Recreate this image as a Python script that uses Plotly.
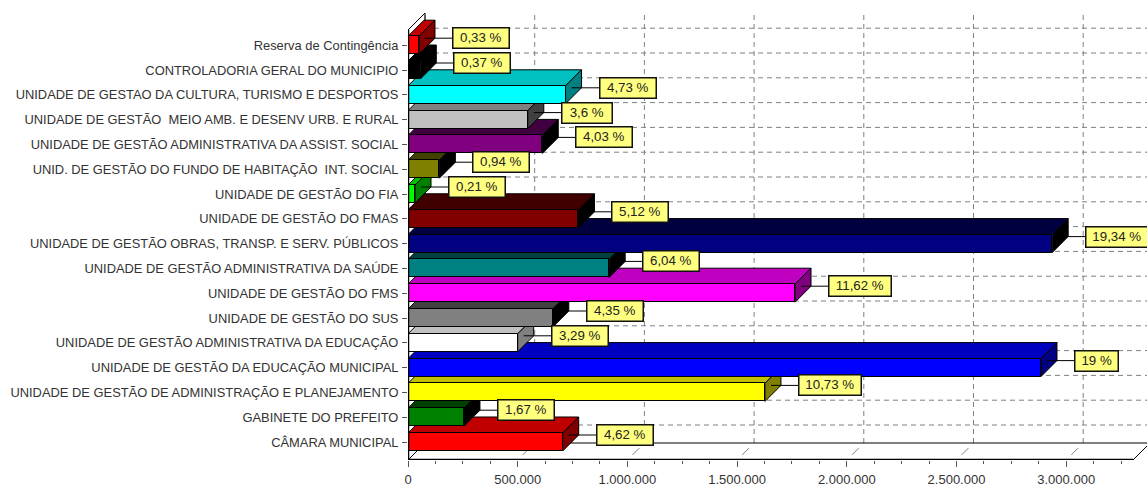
import plotly.graph_objects as go

categories = [
    "CÂMARA MUNICIPAL",
    "GABINETE DO PREFEITO",
    "UNIDADE DE GESTÃO DE ADMINISTRAÇÃO E PLANEJAMENTO",
    "UNIDADE DE GESTÃO DA EDUCAÇÃO MUNICIPAL",
    "UNIDADE DE GESTÃO ADMINISTRATIVA DA EDUCAÇÃO",
    "UNIDADE DE GESTÃO DO SUS",
    "UNIDADE DE GESTÃO DO FMS",
    "UNIDADE DE GESTÃO ADMINISTRATIVA DA SAÚDE",
    "UNIDADE DE GESTÃO OBRAS, TRANSP. E SERV. PÚBLICOS",
    "UNIDADE DE GESTÃO DO FMAS",
    "UNIDADE DE GESTÃO DO FIA",
    "UNID. DE GESTÃO DO FUNDO DE HABITAÇÃO  INT. SOCIAL",
    "UNIDADE DE GESTÃO ADMINISTRATIVA DA ASSIST. SOCIAL",
    "UNIDADE DE GESTÃO  MEIO AMB. E DESENV URB. E RURAL",
    "UNIDADE DE GESTAO DA CULTURA, TURISMO E DESPORTOS",
    "CONTROLADORIA GERAL DO MUNICIPIO",
    "Reserva de Contingência",
]
values = [705000, 255000, 1627000, 2885000, 500000, 660000, 1764000, 917000,
          2936000, 777000, 32000, 143000, 612000, 546000, 718000, 56000, 50000]
percent_labels = ["4,62 %", "1,67 %", "10,73 %", "19 %", "3,29 %", "4,35 %", "11,62 %", "6,04 %",
                  "19,34 %", "5,12 %", "0,21 %", "0,94 %", "4,03 %", "3,6 %", "4,73 %", "0,37 %", "0,33 %"]
front_colors = ["#ff0000", "#008000", "#ffff00", "#0000ff", "#ffffff", "#808080", "#ff00ff", "#008080",
                "#000080", "#800000", "#00ff00", "#808000", "#800080", "#c0c0c0", "#00ffff", "#000000", "#ff0000"]
top_colors = ["#c00000", "#004000", "#c0c000", "#0000c0", "#c0c0c0", "#404040", "#c000c0", "#004040",
              "#000040", "#400000", "#00c000", "#404000", "#400040", "#808080", "#00c0c0", "#000000", "#c00000"]
side_colors = ["#800000", "#000000", "#808000", "#000080", "#808080", "#000000", "#800080", "#000000",
               "#000000", "#000000", "#008000", "#000000", "#000000", "#404040", "#008080", "#000000", "#800000"]
x_ticks = [0, 500000, 1000000, 1500000, 2000000, 2500000, 3000000]
x_tick_labels = ["0", "500.000", "1.000.000", "1.500.000", "2.000.000", "2.500.000", "3.000.000"]

FONT = "Liberation Sans, Arial, sans-serif"
W, H = 1147, 486
X0_PX, Y_AXIS_PX, Y_CAT0_PX = 408, 460, 442
PX_PER_UNIT_X = 109.7 / 500000
PX_PER_CAT = 24.8
to_x = lambda px: px / PX_PER_UNIT_X
to_y = lambda px: px / PX_PER_CAT

x_max = to_x(W - X0_PX)
y_min, y_max = -to_y(Y_AXIS_PX - Y_CAT0_PX), to_y(Y_CAT0_PX)
BAR_H = to_y(18)
BAR_DX, BAR_DY = to_x(16), to_y(16)
WALL_DX, WALL_DY = to_x(17), to_y(17)
x_front_end = to_x(1133 - X0_PX)
y_wall_top = to_y(Y_CAT0_PX - 30)
indices = list(range(len(categories)))

fig = go.Figure()


def face(xs, ys, color):
    fig.add_trace(go.Scatter(x=xs, y=ys, mode="lines", fill="toself", fillcolor=color,
                             line=dict(color="#000000", width=1), hoverinfo="skip", showlegend=False))


# depth faces: upper categories paint over lower ones
for i in indices:
    v = values[i]
    t, b = i + BAR_H / 2, i - BAR_H / 2
    face([0, v, v + BAR_DX, BAR_DX, 0], [t, t, t + BAR_DY, t + BAR_DY, t], top_colors[i])
    face([v, v + BAR_DX, v + BAR_DX, v, v], [t, t + BAR_DY, b + BAR_DY, b, t], side_colors[i])

# callout connectors and labels
for i, (v, lab) in enumerate(zip(values, percent_labels)):
    y_c = i + to_y(7)
    fig.add_trace(go.Scatter(x=[v + to_x(6), v + to_x(34)], y=[y_c, y_c], mode="lines",
                             line=dict(color="#000000", width=1), hoverinfo="skip", showlegend=False))
    fig.add_annotation(x=v, y=i, xref="x", yref="y", text=lab, showarrow=False,
                       xanchor="left", yanchor="middle", xshift=33, yshift=7,
                       font=dict(family=FONT, size=13.3, color="#222222"),
                       bgcolor="#ffff80", bordercolor="#111111", borderwidth=1.5, borderpad=1,
                       width=len(lab) * 6.1 + 16, height=16.5, align="center")

# front faces sit on an overlaid pair of axes, above every depth face
fig.add_trace(go.Bar(y=indices, x=values, orientation="h", width=BAR_H, xaxis="x2", yaxis="y2",
                     marker=dict(color=front_colors, line=dict(color="#000000", width=1)),
                     hoverinfo="skip", showlegend=False))

shapes = []
grid = dict(color="#808080", width=1, dash="5px,4px")
for t in x_ticks:
    shapes.append(dict(type="line", layer="below", xref="x", yref="y", x0=t + WALL_DX, x1=t + WALL_DX,
                       y0=y_min + WALL_DY, y1=y_wall_top + WALL_DY, line=grid))
    shapes.append(dict(type="line", layer="below", xref="x", yref="y", x0=t + WALL_DX * 0.3, x1=t + WALL_DX * 0.7,
                       y0=y_min + WALL_DY * 0.3, y1=y_min + WALL_DY * 0.7, line=dict(color="#808080", width=1)))
for i in indices:
    shapes.append(dict(type="line", layer="below", xref="x", yref="y", x0=WALL_DX, x1=x_max,
                       y0=i + WALL_DY, y1=i + WALL_DY, line=grid))
solid = dict(color="#000000", width=1)
shapes += [
    dict(type="line", layer="below", xref="x", yref="y", x0=WALL_DX, x1=WALL_DX, y0=y_min + WALL_DY,
         y1=y_wall_top + WALL_DY, line=solid),
    dict(type="line", layer="below", xref="x", yref="y", x0=0, x1=WALL_DX, y0=y_wall_top,
         y1=y_wall_top + WALL_DY, line=solid),
    dict(type="line", layer="below", xref="x", yref="y", x0=0, x1=WALL_DX, y0=y_min,
         y1=y_min + WALL_DY, line=solid),
    dict(type="line", layer="below", xref="x", yref="y", x0=WALL_DX, x1=x_max, y0=y_min + WALL_DY,
         y1=y_min + WALL_DY, line=solid),
    dict(type="line", layer="below", xref="x", yref="y", x0=x_front_end, x1=x_front_end + WALL_DX,
         y0=y_min, y1=y_min + WALL_DY, line=solid),
    dict(type="line", layer="above", xref="x", yref="y", x0=0, x1=x_front_end, y0=y_min, y1=y_min,
         line=dict(color="#000000", width=2.5)),
    dict(type="line", layer="above", xref="x", yref="y", x0=0, x1=0, y0=y_min, y1=y_wall_top,
         line=dict(color="#000000", width=2.5)),
]

fig.update_layout(
    width=W, height=H, autosize=False, margin=dict(l=X0_PX, r=0, t=0, b=H - Y_AXIS_PX, pad=0),
    paper_bgcolor="#ffffff", plot_bgcolor="#ffffff", shapes=shapes, showlegend=False, bargap=0,
    font=dict(family=FONT, size=13, color="#333333"),
    xaxis=dict(range=[0, x_max], tickmode="array", tickvals=x_ticks, ticktext=x_tick_labels,
               showgrid=False, zeroline=False, showline=False, ticks="outside", ticklen=6,
               tickcolor="#555555", tickfont=dict(family=FONT, size=13, color="#333333"), ticklabelstandoff=1,
               minor=dict(dtick=125000, tick0=0, ticks="outside", ticklen=3, tickcolor="#555555", showgrid=False)),
    yaxis=dict(range=[y_min, y_max], tickmode="array", tickvals=indices, ticktext=categories,
               showgrid=False, zeroline=False, showline=False, ticks="outside", ticklen=5,
               tickcolor="#555555", ticklabelstandoff=1,
               tickfont=dict(family=FONT, size=12.9, color="#333333")),
    xaxis2=dict(range=[0, x_max], overlaying="x", visible=False),
    yaxis2=dict(range=[y_min, y_max], overlaying="y", visible=False),
)
fig.write_html("out.html", config={"displayModeBar": False},
               post_script="document.body.style.margin='0';")
